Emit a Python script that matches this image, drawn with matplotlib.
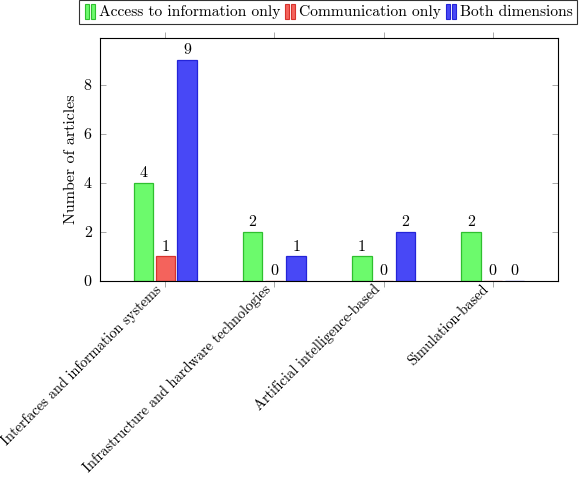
import matplotlib
matplotlib.use("Agg")
import matplotlib.pyplot as plt
from matplotlib.legend_handler import HandlerBase
from matplotlib.patches import Rectangle
import matplotlib.transforms as mtransforms
import numpy as np

categories = ["Interfaces and information systems",
              "Infrastructure and hardware technologies",
              "Artificial intelligence-based",
              "Simulation-based"]
series_names = ["Access to information only", "Communication only", "Both dimensions"]
access_only = [4, 2, 1, 2]
communication_only = [1, 0, 0, 0]
both_dims = [9, 1, 2, 0]
yticks = [0, 2, 4, 6, 8]

plt.rcParams['font.family'] = ['cmr10', 'DejaVu Serif']
plt.rcParams['axes.formatter.use_mathtext'] = True
plt.rcParams['mathtext.fontset'] = 'cm'


class TwoBarHandler(HandlerBase):
    def create_artists(self, legend, orig_handle, xdescent, ydescent, width, height, fontsize, trans):
        patch = orig_handle.patches[0]
        fc = patch.get_facecolor()
        ec = patch.get_edgecolor()
        bw = width * 0.32
        gap = width * 0.14
        h = height * 1.15
        y0 = -ydescent + (height - h) / 2
        x0 = -xdescent + width * 0.1
        r1 = Rectangle((x0, y0), bw, h, facecolor=fc, edgecolor=ec, lw=0.8, transform=trans)
        r2 = Rectangle((x0 + bw + gap, y0), bw, h, facecolor=fc, edgecolor=ec, lw=0.8, transform=trans)
        return [r1, r2]


fig = plt.figure(figsize=(5.8, 4.78), dpi=100)
ax = fig.add_axes([100/580, 1-281/478, 458/580, 243/478])

faces = ['#6cfa6c', '#f4635c', '#4848f6']
edges = ['#2fbf2f', '#d8322c', '#2424d8']
data = [access_only, communication_only, both_dims]
offsets = [-0.2, 0.0, 0.2]
x = np.arange(len(categories))
handles = []
for vals, off, fc, ec, name in zip(data, offsets, faces, edges, series_names):
    bars = ax.bar(x + off, vals, width=0.18, color=fc, edgecolor=ec, linewidth=0.9, label=name)
    handles.append(bars)
    for xi, v in zip(x + off, vals):
        ax.text(xi, v + 0.12, str(v), ha='center', va='bottom', fontsize=11.5)

ax.set_xlim(-0.6, 3.6)
ax.set_ylim(0, 9.9)
ax.set_yticks(yticks)
ax.set_yticklabels([str(t) for t in yticks], fontsize=11.5)
ax.set_xticks(x)
ax.set_xticklabels(categories, rotation=45, ha='right', va='center', rotation_mode='anchor', fontsize=10.4)
ax.tick_params(axis='y', direction='in', left=True, right=True, length=4, color='#999999', width=0.6, pad=6)
ax.tick_params(axis='x', direction='out', top=True, bottom=True, length=4, color='#999999', width=0.6, pad=0.5)
shift = mtransforms.ScaledTranslation(-6/100, 0, fig.dpi_scale_trans)
for lbl in ax.get_xticklabels():
    lbl.set_transform(lbl.get_transform() + shift)
for s in ax.spines.values():
    s.set_linewidth(0.8)
ax.set_ylabel("Number of articles", fontsize=11.5, labelpad=4)

leg = fig.legend(handles=handles, labels=series_names, loc='upper left',
                 bbox_to_anchor=(79/580, 1.0), ncol=3, fontsize=11.2,
                 frameon=True, fancybox=False, edgecolor='black',
                 handler_map={type(handles[0]): TwoBarHandler()},
                 handlelength=0.85, handleheight=0.9, handletextpad=0.15,
                 columnspacing=0.2, borderpad=0.3, borderaxespad=0)
leg.get_frame().set_linewidth(0.8)

fig.savefig("out.png", dpi=100)
